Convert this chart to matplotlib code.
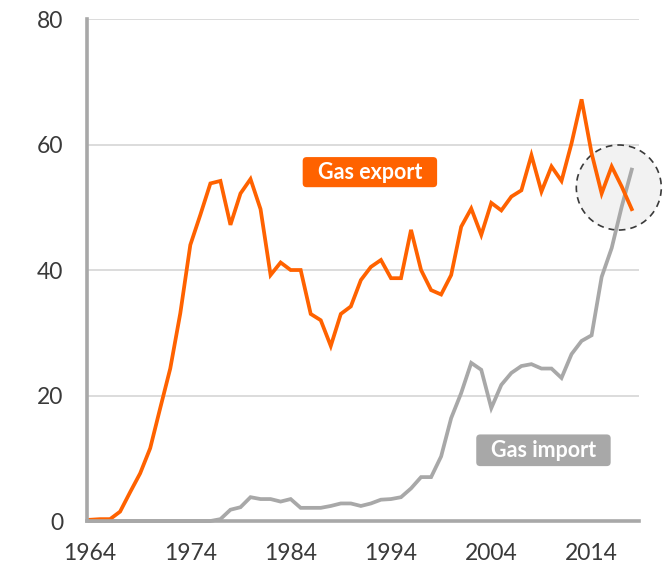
import matplotlib
matplotlib.use("Agg")
import matplotlib.pyplot as plt
from matplotlib.patches import Ellipse, FancyBboxPatch

# Annual gas trade volumes, 1964-2018
years = list(range(1964, 2019))

gas_export = [
    0.2, 0.3, 0.3, 1.5, 4.6, 7.6, 11.6, 18.0, 24.3, 33.1,   # 1964-1973
    44.0, 48.8, 53.8, 54.2, 47.2, 52.2, 54.5, 49.7, 39.2, 41.2,  # 1974-1983
    40.0, 40.0, 33.0, 32.0, 27.9, 33.0, 34.2, 38.4, 40.5, 41.6,  # 1984-1993
    38.7, 38.7, 46.4, 40.0, 36.8, 36.1, 39.2, 46.9, 49.8, 45.6,  # 1994-2003
    50.7, 49.5, 51.7, 52.7, 58.3, 52.5, 56.5, 54.2, 60.2, 67.2,  # 2004-2013
    58.6, 52.2, 56.5, 53.3, 49.7,                                # 2014-2018
]

gas_import = [
    0.0, 0.0, 0.0, 0.0, 0.0, 0.0, 0.0, 0.0, 0.0, 0.0,   # 1964-1973
    0.0, 0.0, 0.0, 0.3, 1.8, 2.2, 3.8, 3.5, 3.5, 3.1,   # 1974-1983
    3.5, 2.1, 2.1, 2.1, 2.4, 2.8, 2.8, 2.4, 2.8, 3.4,   # 1984-1993
    3.5, 3.8, 5.2, 7.0, 7.0, 10.3, 16.4, 20.4, 25.2, 24.1,  # 1994-2003
    18.0, 21.7, 23.6, 24.7, 25.0, 24.3, 24.3, 22.8, 26.6, 28.7,  # 2004-2013
    29.6, 38.9, 43.5, 50.1, 56.0,                       # 2014-2018
]

x_ticks = [1964, 1974, 1984, 1994, 2004, 2014]
y_ticks = [0, 20, 40, 60, 80]

ORANGE = "#FF6200"
GREY = "#A8A8A8"
TEXT = "#3A3A3A"

plt.rcParams["font.family"] = ["Lato", "DejaVu Sans"]

fig = plt.figure(figsize=(6.64, 5.68), dpi=100)
ax = fig.add_axes([0.131, 0.0827, 0.831, 0.8838])

ax.set_xlim(1963.7, 2018.7)
ax.set_ylim(0, 80)

# horizontal gridlines
for yv in y_ticks[1:]:
    ax.axhline(yv, color="#DCDCDC", lw=1.4, zorder=1)

# highlight circle around the recent crossover
circle = Ellipse((2016.71, 53.15), 8.47, 13.55, facecolor="#F2F2F2",
                 edgecolor="#3A3A3A", lw=1.2, ls=(0, (4, 3)),
                 clip_on=False, zorder=2)
ax.add_patch(circle)

ax.plot(years, gas_import, color=GREY, lw=2.7, solid_joinstyle="miter",
        zorder=3, clip_on=False)
ax.plot(years, gas_export, color=ORANGE, lw=2.7, solid_joinstyle="miter",
        zorder=4, clip_on=False)

# series labels in rounded boxes
def label_box(x0, x1, y0, y1, text, color):
    box = FancyBboxPatch((x0, y0), x1 - x0, y1 - y0,
                         boxstyle="round,pad=0,rounding_size=0.4",
                         mutation_aspect=1.56, facecolor=color,
                         edgecolor="none", zorder=5)
    ax.add_patch(box)
    ax.text((x0 + x1) / 2, (y0 + y1) / 2, text, color="white",
            fontsize=15.5, fontweight="bold", ha="center", va="center",
            zorder=6)

label_box(1985.2, 1998.6, 53.2, 58.0, "Gas export", ORANGE)
label_box(2002.5, 2015.9, 8.75, 13.8, "Gas import", GREY)

# axes styling
for side in ["top", "right"]:
    ax.spines[side].set_visible(False)
for side in ["left", "bottom"]:
    ax.spines[side].set_color(GREY)
    ax.spines[side].set_linewidth(2.6)
    ax.spines[side].set_zorder(7)
ax.spines["left"].set_bounds(0, 80)

ax.set_xticks(x_ticks)
ax.set_yticks(y_ticks)
ax.tick_params(axis="both", length=0, labelsize=16.5, colors=TEXT)
ax.tick_params(axis="y", pad=17)
ax.tick_params(axis="x", pad=16)

fig.savefig("out.png", dpi=100)
